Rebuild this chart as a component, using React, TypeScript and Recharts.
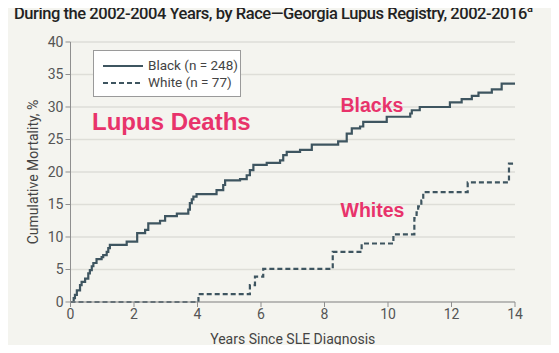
import React from 'react'
import { LineChart, Line, XAxis, YAxis, CartesianGrid } from 'recharts'

// years since diagnosis / cumulative mortality % (step points)
const blackYears = [0, 0.1, 0.14, 0.2, 0.3, 0.35, 0.46, 0.56, 0.61, 0.67, 0.72, 0.82, 0.98, 1.03, 1.14, 1.19, 1.24, 1.77, 2.1, 2.35, 2.45, 2.82, 2.98, 3.35, 3.71, 3.76, 3.82, 3.87, 3.97, 4.6, 4.81, 4.87, 5.34, 5.55, 5.65, 5.76, 6.18, 6.6, 6.7, 6.81, 7.23, 7.6, 8.43, 8.7, 8.86, 9.12, 9.22, 9.96, 10.7, 10.75, 11.0, 11.95, 12.32, 12.64, 12.85, 13.27, 13.58, 14.0]
const blackMortality = [0, 0.6, 1.1, 1.8, 2.6, 3.1, 3.6, 4.4, 4.9, 5.5, 6.0, 6.6, 6.9, 7.2, 7.7, 8.3, 8.8, 9.3, 10.6, 11.1, 12.1, 12.5, 13.2, 13.6, 14.2, 15.2, 15.8, 16.2, 16.6, 17.2, 18.0, 18.7, 18.9, 19.5, 20.3, 21.1, 21.4, 21.8, 22.6, 23.1, 23.4, 24.2, 24.7, 25.9, 26.7, 27.0, 27.7, 28.5, 29.0, 29.5, 30.0, 30.7, 31.2, 31.7, 32.2, 32.7, 33.6, 33.6]

const whiteYears = [0, 4.03, 5.65, 5.81, 6.07, 8.26, 9.17, 10.17, 10.83, 10.9, 10.95, 11.05, 11.11, 12.51, 13.81, 13.94]
const whiteMortality = [0, 1.2, 2.6, 3.9, 5.1, 7.7, 9.0, 10.4, 12.9, 13.8, 14.7, 15.6, 16.9, 18.4, 21.3, 21.3]

const xTicks = [0, 2, 4, 6, 8, 10, 12, 14]
const yTicks = [0, 5, 10, 15, 20, 25, 30, 35, 40]

const blackData = blackYears.map((t, i) => ({ t, v: blackMortality[i] }))
const whiteData = whiteYears.map((t, i) => ({ t, v: whiteMortality[i] }))

const lineColor = '#3e5560'
const pink = '#e8336b'
const font = 'Roboto, "Open Sans", sans-serif'
const boldFont = 'Arial, "Liberation Sans", sans-serif'

function LegendBox() {
  return (
    <div
      style={{
        position: 'absolute',
        left: 93,
        top: 50,
        width: 148,
        height: 47,
        background: '#fff',
        border: '1px solid #9a9a9a',
        boxSizing: 'border-box',
        fontFamily: font,
        fontSize: 13.5,
        color: '#444',
        padding: '6px 0 0 9px',
        lineHeight: '17px',
      }}
    >
      <div style={{ display: 'flex', alignItems: 'center' }}>
        <svg width={40} height={6}>
          <line x1={0} y1={3} x2={40} y2={3} stroke={lineColor} strokeWidth={2} />
        </svg>
        <span style={{ marginLeft: 5 }}>Black (n = 248)</span>
      </div>
      <div style={{ display: 'flex', alignItems: 'center' }}>
        <svg width={40} height={6}>
          <line x1={0} y1={3} x2={40} y2={3} stroke={lineColor} strokeWidth={2} strokeDasharray="5 3" />
        </svg>
        <span style={{ marginLeft: 5 }}>White (n = 77)</span>
      </div>
    </div>
  )
}

const note = (left: number, top: number, size: number) => ({
  position: 'absolute' as const,
  left,
  top,
  color: pink,
  fontFamily: boldFont,
  fontWeight: 'bold' as const,
  fontSize: size,
  lineHeight: 'normal',
  whiteSpace: 'nowrap' as const,
})

export default function App() {
  return (
    <div style={{ position: 'relative', width: 559, height: 353, margin: -8, background: '#f4f4ef', overflow: 'hidden' }}>
      <div
        style={{
          position: 'absolute',
          left: 14,
          top: 2,
          fontFamily: font,
          fontSize: 16.5,
          fontWeight: 500,
          letterSpacing: -0.45,
          color: '#222',
          whiteSpace: 'nowrap',
        }}
      >
        During the 2002-2004 Years, by Race—Georgia Lupus Registry, 2002-2016<sup style={{ fontSize: 11 }}>a</sup>
      </div>
      <LineChart
        width={559}
        height={353}
        margin={{ top: 42, right: 44, bottom: 0, left: 0 }}
        style={{ position: 'absolute', left: 0, top: 0 }}
      >
        <CartesianGrid vertical={false} stroke="#deded8" strokeWidth={1.5} />
        <XAxis
          type="number"
          dataKey="t"
          domain={[0, 14]}
          ticks={xTicks}
          height={51}
          allowDuplicatedCategory={false}
          stroke="#8f8f8f"
          tickSize={5}
          tick={{ fill: '#555', fontSize: 14, fontFamily: font }}
          label={{ value: 'Years Since SLE Diagnosis', position: 'insideBottom', offset: 9, fill: '#444', fontSize: 14, fontFamily: font }}
        />
        <YAxis
          type="number"
          domain={[0, 40]}
          ticks={yTicks}
          width={70.5}
          stroke="#8f8f8f"
          tickSize={5}
          tick={{ fill: '#555', fontSize: 14, fontFamily: font }}
          label={{ value: 'Cumulative Mortality, %', angle: -90, position: 'insideLeft', offset: 33, fill: '#444', fontSize: 14, fontFamily: font, style: { textAnchor: 'middle' } }}
        />
        <Line
          data={blackData}
          dataKey="v"
          name="Black (n = 248)"
          type="stepAfter"
          stroke={lineColor}
          strokeWidth={2.2}
          dot={false}
          isAnimationActive={false}
        />
        <Line
          data={whiteData}
          dataKey="v"
          name="White (n = 77)"
          type="stepAfter"
          stroke={lineColor}
          strokeWidth={2.2}
          strokeDasharray="5 3"
          dot={false}
          isAnimationActive={false}
        />
      </LineChart>
      <LegendBox />
      <div style={note(92, 107.5, 24)}>Lupus Deaths</div>
      <div style={note(340.5, 93.5, 19.5)}>Blacks</div>
      <div style={note(340.5, 199, 19.5)}>Whites</div>
    </div>
  )
}
